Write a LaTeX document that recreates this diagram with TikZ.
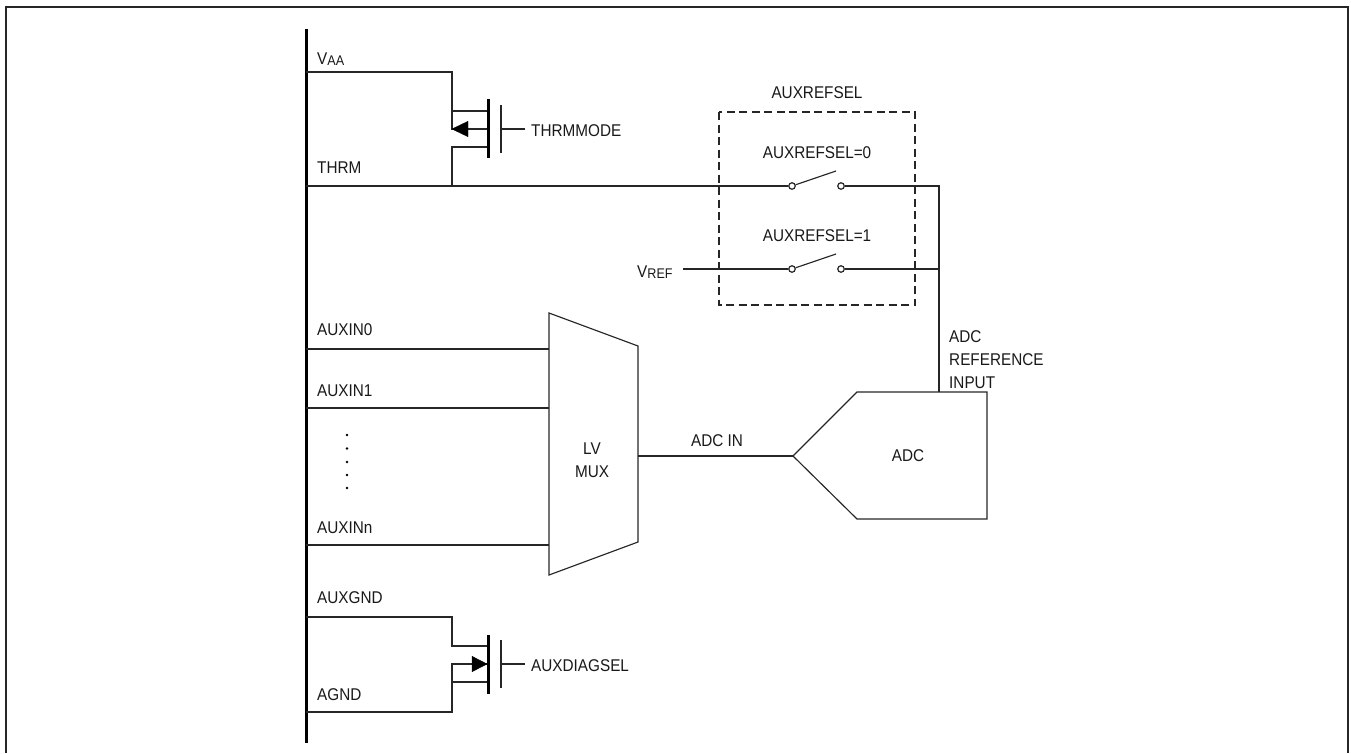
\documentclass[tikz,border=0pt]{standalone}
\usepackage{fontspec}
\setmainfont[FakeStretch=0.9]{Liberation Sans}
\begin{document}
\begin{tikzpicture}[x=1pt,y=-1pt,
  wire/.style={draw=black!85,line width=1.15pt},
  heavy/.style={draw=black,line width=3pt},
  frame/.style={draw=black!85,line width=2pt},
  lbl/.style={inner sep=0pt,font=\fontsize{17}{20}\selectfont,text=black!90},
  tl/.style={lbl,anchor=base west},
  tc/.style={lbl,anchor=base},
  contact/.style={circle,draw=black!85,line width=1.2pt,fill=white,inner sep=0pt,minimum size=6.5pt},
  dotm/.style={circle,fill=black,inner sep=0pt,minimum size=2.6pt},
  tip/.style={fill=black,draw=black,line width=.4pt},
  every path/.append style={line join=miter}]
\useasboundingbox (0,0) rectangle (1351,753);
% outer frame
\coordinate (fa) at (6,753); \coordinate (fb) at (6,6.5); \coordinate (fc) at (1348,6.5); \coordinate (fd) at (1348,753);
\draw[frame] (fa) -- (fb) -- (fc) -- (fd);
% bus
\coordinate (busT) at (306,29); \coordinate (busB) at (306,743);
\draw[heavy] (busT) -- (busB);
% bus taps
\foreach \n/\y in {vaa/72,thrm/186,in0/349,in1/408,inn/545,gnd/617,agnd/712}{\coordinate (b\n) at (306,\y);}
% labels on bus
\node[tl] (lvaa) at (317,64) {V\raisebox{-1pt}{\fontsize{14}{16}\selectfont AA}};
\node[tl] (lthrm) at (317,173.5) {THRM};
\node[tl] (lin0) at (317,335) {AUXIN0};
\node[tl] (lin1) at (317,396) {AUXIN1};
\node[tl] (linn) at (317,533) {AUXINn};
\node[tl] (lgnd) at (317,603) {AUXGND};
\node[tl] (lagnd) at (317,700) {AGND};
\foreach \i/\y in {1/435,2/448.5,3/462,4/475,5/488}{\node[dotm] (d\i) at (347,\y) {};}
% upper FET
\coordinate (ut) at (452,72); \coordinate (ud) at (452,111); \coordinate (ub) at (452,129);
\coordinate (us) at (452,147); \coordinate (uj) at (452,186);
\coordinate (ugT) at (488,99); \coordinate (ugB) at (488,158);
\coordinate (upT) at (501,105); \coordinate (upB) at (501,153);
\coordinate (ugd) at (488,111); \coordinate (ugb) at (488,129); \coordinate (ugs) at (488,147);
\coordinate (upm) at (501,129); \coordinate (uge) at (525,129);
\draw[wire] (bvaa) -- (ut) -- (ud) -- (ugd);
\draw[wire] (ud) -- (ub) -- (ugb);
\draw[wire] (ugs) -- (us) -- (uj);
\draw[heavy] (ugT) -- (ugB);
\draw[wire] (upT) -- (upB);
\draw[wire] (upm) -- (uge);
\fill[tip] (ub) -- ++(16,-7.7) -- ++(0,15.4) -- cycle;
\node[tl] (lthm) at (531,136) {THRMMODE};
% lower FET
\coordinate (lt) at (452,617); \coordinate (ld) at (452,646); \coordinate (lb) at (452,664);
\coordinate (ls) at (452,682); \coordinate (lj) at (452,712);
\coordinate (lgT) at (488,635); \coordinate (lgB) at (488,694);
\coordinate (lpT) at (501,640); \coordinate (lpB) at (501,688);
\coordinate (lgd) at (488,646); \coordinate (lgb) at (488,664); \coordinate (lgs) at (488,682);
\coordinate (lpm) at (501,664); \coordinate (lge) at (525,664);
\draw[wire] (bgnd) -- (lt) -- (ld) -- (lgd);
\draw[wire] (lgb) -- (lb) -- (ls) -- (lj) -- (bagnd);
\draw[wire] (ls) -- (lgs);
\draw[heavy] (lgT) -- (lgB);
\draw[wire] (lpT) -- (lpB);
\draw[wire] (lpm) -- (lge);
\fill[tip] (487,664) -- ++(-15,-7.7) -- ++(0,15.4) -- cycle;
\node[tl] (ldiag) at (531,671) {AUXDIAGSEL};
% dashed box
\coordinate (dbA) at (719,112); \coordinate (dbB) at (915,305);
\draw[draw=black!85,line width=1.1pt,dash pattern=on 8pt off 4.5pt] (dbA) rectangle (dbB);
\node[tc] (lsel) at (817,98) {AUXREFSEL};
\node[tc] (lsel0) at (817,158) {AUXREFSEL=0};
\node[tc] (lsel1) at (817,241) {AUXREFSEL=1};
\node[tl] (lvref) at (637,277) {V\raisebox{-1pt}{\fontsize{14}{16}\selectfont REF}};
% switches
\node[contact] (s0a) at (792,186) {}; \node[contact] (s0b) at (841,186) {};
\node[contact] (s1a) at (792,269) {}; \node[contact] (s1b) at (841,269) {};
\coordinate (a0) at (836,171); \coordinate (a1) at (836,254);
\coordinate (vrefs) at (683,269); \coordinate (rt) at (939,186); \coordinate (rm) at (939,269); \coordinate (rb) at (939,392);
\draw[wire] (bthrm) -- (s0a);
\draw[wire] (s0a) -- (a0);
\draw[wire] (s0b) -- (rt) -- (rm) -- (rb);
\draw[wire] (vrefs) -- (s1a);
\draw[wire] (s1a) -- (a1);
\draw[wire] (s1b) -- (rm);
\node[tl] (lr1) at (949,342) {ADC};
\node[tl] (lr2) at (949,365) {REFERENCE};
\node[tl] (lr3) at (949,388) {INPUT};
% MUX
\coordinate (m1) at (549,313); \coordinate (m2) at (638,346); \coordinate (m3) at (638,542); \coordinate (m4) at (549,575);
\coordinate (mo) at (638,456);
\coordinate (mi0) at (549,349); \coordinate (mi1) at (549,408); \coordinate (min) at (549,545);
\draw[wire] (m1) -- (m2) -- (m3) -- (m4) -- cycle;
\draw[wire] (bin0) -- (mi0);
\draw[wire] (bin1) -- (mi1);
\draw[wire] (binn) -- (min);
\node[tc] (llv) at (592,454) {LV};
\node[tc] (lmux) at (592,477) {MUX};
% ADC
\coordinate (a1p) at (793,456); \coordinate (a2p) at (857,392); \coordinate (a3p) at (987,392); \coordinate (a4p) at (987,519); \coordinate (a5p) at (857,519);
\draw[wire] (a1p) -- (a2p) -- (a3p) -- (a4p) -- (a5p) -- cycle;
\draw[wire] (mo) -- (a1p);
\node[tc] (ladcin) at (717,446) {ADC IN};
\node[tc] (ladc) at (908,461) {ADC};
\end{tikzpicture}
\end{document}
